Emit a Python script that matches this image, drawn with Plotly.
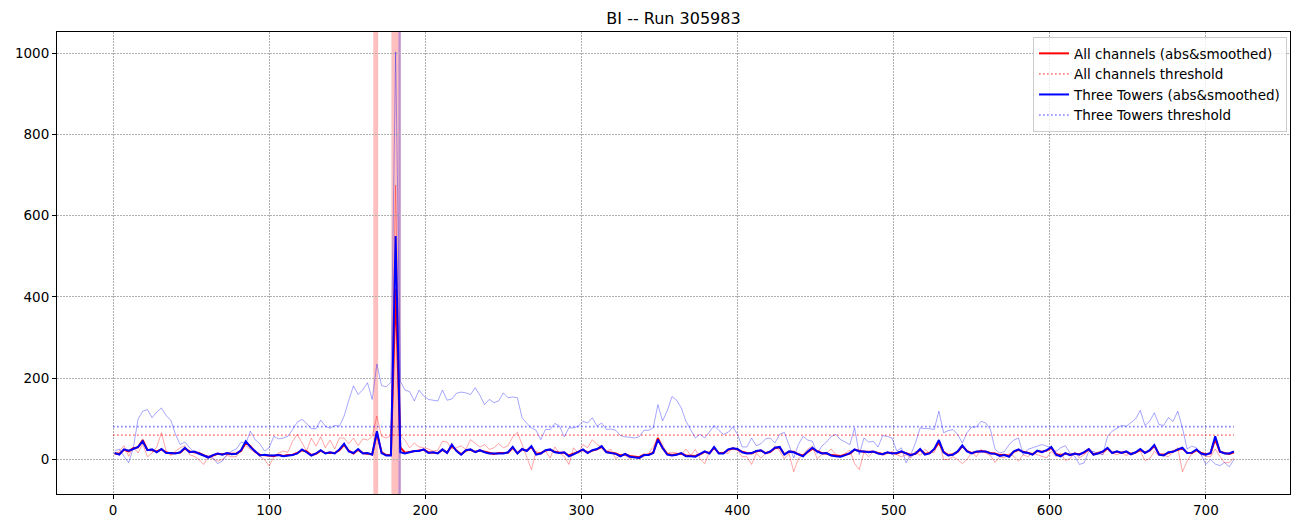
import plotly.graph_objects as go

# ---------------- data ----------------
X = list(range(1, 719, 3))  # sample positions

all_raw_a = [12,21,34,8,31,16,39,7,16,31,
             66,21,10,21,29,34,12,8,0,-12,
             7,2,-4,0,10,7,7,25,34,25,
             18,8,0,-16,7,16,21,18,45,62,
             43,21,53,33,56,29,48,26,53,53,
             39,53,34,51,48,57,107,57,53,59]
all_raw_peak = [675]
all_raw_b = [59,48,29,41,31,29,26,21,23,45,
             43,26,29,34,25,49,41,31,37,25,
             29,39,29,34,56,67,37,4,-25,21,
             12,21,4,31,16,8,-12,29,15,37,
             29,49,37,31,21,25,2,10,10,2,
             7,2,7,15,31,56,34,15,18]
all_raw_c = [16,12,26,10,25,2,-10,18,31,16,
             18,15,31,23,7,7,-12,15,4,15,
             16,34,21,2,15,-30,2,12,26,33,
             2,12,16,26,12,8,16,23,-10,-25,
             18,7,20,16,10,16,20,12,7,12,
             4,20,10,25,16,18,45,0,0,7]
all_raw_d = [0,-10,0,18,7,25,16,10,-7,7,
             4,15,8,-4,12,7,16,12,7,4,
             20,7,16,-2,2,18,4,12,23,10,
             18,12,29,16,12,18,10,16,18,20,
             -2,2,20,10,10,7,18,29,-30,-4,
             15,23,12,8,7,26,8,-8,-7,4]

all_smooth_a = [15,14,24,20,28,30,48,24,23,20,
                25,18,15,16,17,27,20,18,16,11,
                6,10,14,13,15,14,15,21,42,33,
                19,12,11,11,9,12,9,11,12,16,
                23,20,11,14,22,16,17,16,23,36,
                22,15,24,16,15,13,65,18,11,12]
all_smooth_peak = [420]
all_smooth_b = [30,17,19,20,22,24,18,17,16,24,
                17,34,22,13,22,24,19,22,19,16,
                14,16,16,17,29,16,25,22,31,14,
                16,22,24,19,17,17,10,14,19,24,
                17,22,25,31,19,17,15,10,13,9,
                7,6,12,12,17,52,28,14,11]
all_smooth_c = [13,15,10,9,9,13,19,16,29,16,
                16,24,27,25,19,16,15,20,22,16,
                19,28,30,13,19,19,13,10,19,27,
                21,16,15,11,10,9,12,15,24,21,
                19,19,19,16,14,17,16,15,19,15,
                12,14,24,14,16,25,42,19,11,13]
all_smooth_d = [19,33,21,16,19,21,19,16,15,11,
                12,9,19,24,19,17,13,21,19,22,
                29,14,10,15,12,14,13,17,25,13,
                16,19,27,17,19,17,19,14,17,24,
                17,22,34,13,12,17,20,24,27,17,
                16,23,16,13,15,50,19,16,14,18]

tt_raw_a = [21,26,8,-8,29,99,119,123,103,117,
            127,108,97,62,37,43,29,18,12,10,
            10,4,-10,-4,12,21,26,43,39,70,
            49,39,21,29,57,51,53,57,74,92,
            99,89,76,76,97,82,77,84,82,107,
            146,181,160,172,189,148,235,182,179,190]
tt_raw_peak = [1003]
tt_raw_b = [193,171,167,144,171,156,148,146,144,171,
            146,149,163,166,164,160,177,158,135,148,
            140,144,164,152,154,152,103,89,78,72,
            49,74,74,89,82,56,78,78,82,94,
            90,103,82,90,74,75,72,59,56,55,
            53,56,72,72,78,135,95,120,155]
tt_raw_c = [146,127,94,72,53,62,53,68,84,72,
            62,67,80,62,31,31,53,34,39,51,
            53,41,62,67,37,4,37,57,48,45,
            15,33,43,57,62,49,43,37,78,12,
            53,43,45,31,59,57,53,21,29,-8,
            12,41,78,76,76,74,119,66,71,74]
tt_raw_d = [62,41,66,80,80,94,90,74,25,16,
            20,37,48,53,12,25,29,33,37,33,
            29,20,29,34,16,8,-12,-8,20,20,
            15,12,57,70,76,84,82,90,100,121,
            84,94,115,86,84,103,94,119,78,26,
            33,29,12,-12,0,-11,-15,-7,-18,0]

tt_smooth_a = [16,12,25,22,26,31,45,23,25,18,
               26,16,16,15,18,29,18,20,15,10,
               5,11,15,12,16,13,14,23,45,31,
               20,10,12,10,10,11,8,10,11,15,
               25,18,10,15,23,15,18,15,25,39,
               20,16,26,15,16,12,70,16,10,10]
tt_smooth_peak = [550]
tt_smooth_b = [18,15,18,21,21,25,16,18,15,25,
               16,37,21,12,23,25,18,23,18,15,
               15,15,15,18,31,15,26,21,33,12,
               15,23,25,18,16,18,8,13,20,25,
               16,23,26,33,18,16,14,8,14,7,
               5,4,11,11,16,49,29,12,10]
tt_smooth_c = [12,16,8,8,7,14,20,15,31,15,
               15,25,28,26,18,15,16,21,23,15,
               20,29,31,12,20,18,12,8,20,29,
               20,15,16,10,8,7,11,16,25,20,
               20,18,20,15,13,18,15,16,20,14,
               10,15,26,12,15,26,48,18,10,12]
tt_smooth_d = [20,35,20,15,20,20,20,15,14,9,
               11,7,20,25,18,16,12,22,18,23,
               31,12,8,16,11,15,12,18,26,12,
               15,20,29,16,20,16,20,13,18,26,
               16,23,36,12,10,18,19,25,29,16,
               17,25,15,12,16,57,20,15,15,20]

all_threshold = 60
tt_threshold = 81
threshold_x = [0, 718]

all_spans = [(166.7, 169.8), (178.3, 184.3)]
tt_spans = [(182.8, 184.3)]

x_ticks = [0, 100, 200, 300, 400, 500, 600, 700]
y_ticks = [0, 200, 400, 600, 800, 1000]

all_raw = all_raw_a + all_raw_peak + all_raw_b + all_raw_c + all_raw_d
all_smooth = all_smooth_a + all_smooth_peak + all_smooth_b + all_smooth_c + all_smooth_d
tt_raw = tt_raw_a + tt_raw_peak + tt_raw_b + tt_raw_c + tt_raw_d
tt_smooth = tt_smooth_a + tt_smooth_peak + tt_smooth_b + tt_smooth_c + tt_smooth_d
for s in (all_raw, all_smooth, tt_raw, tt_smooth):
    assert len(s) == len(X), len(s)

# ---------------- figure ----------------
FONT = "DejaVu Sans"
fig = go.Figure()

fig.add_trace(go.Scatter(x=X, y=all_raw, mode="lines", showlegend=False,
                         line=dict(color="rgba(255,0,0,0.5)", width=0.7), hoverinfo="skip"))
fig.add_trace(go.Scatter(x=X, y=all_smooth, mode="lines", name="All channels (abs&smoothed)",
                         line=dict(color="#ff0000", width=2)))
fig.add_trace(go.Scatter(x=threshold_x, y=[all_threshold] * 2, mode="lines",
                         name="All channels threshold",
                         line=dict(color="rgba(255,0,0,0.5)", width=1.6, dash="1.6px,2.4px")))
fig.add_trace(go.Scatter(x=X, y=tt_raw, mode="lines", showlegend=False,
                         line=dict(color="rgba(0,0,255,0.5)", width=0.7), hoverinfo="skip"))
fig.add_trace(go.Scatter(x=X, y=tt_smooth, mode="lines", name="Three Towers (abs&smoothed)",
                         line=dict(color="#0000ff", width=2)))
fig.add_trace(go.Scatter(x=threshold_x, y=[tt_threshold] * 2, mode="lines",
                         name="Three Towers threshold",
                         line=dict(color="rgba(0,0,255,0.5)", width=1.6, dash="1.6px,2.4px")))

for x0, x1 in all_spans:
    fig.add_vrect(x0=x0, x1=x1, fillcolor="rgba(255,0,0,0.25)", line_width=0, layer="below")
for x0, x1 in tt_spans:
    fig.add_vrect(x0=x0, x1=x1, fillcolor="rgba(0,0,255,0.25)", line_width=0, layer="below")

axis_common = dict(
    showline=True, linecolor="black", linewidth=1, mirror=True,
    ticks="outside", ticklen=4, tickcolor="black", tickwidth=1,
    showgrid=True, gridcolor="#b0b0b0", gridwidth=0.5, griddash="2px,1px",
    zeroline=False, automargin=False,
    tickfont=dict(family=FONT, size=13.5, color="black"),
)
fig.update_xaxes(range=[-35.9, 753.9], tickvals=x_ticks, **axis_common)
fig.update_yaxes(range=[-84.7, 1051.7], tickvals=y_ticks, **axis_common)

# page body has an 8px margin; figure sized/margined so the plot area lands at
# x 57..1290, y 32..494 of the window
W, H = 1288, 512
fig.update_layout(
    width=W, height=H,
    margin=dict(l=49, r=6, t=24, b=26),
    plot_bgcolor="white", paper_bgcolor="white",
    font=dict(family=FONT, size=13.5, color="black"),
    title=dict(text="BI -- Run 305983", x=0.5, xref="paper", xanchor="center",
               y=1 - 10 / H, yref="container", yanchor="middle",
               font=dict(family=FONT, size=16, color="black")),
    legend=dict(x=0.9976, y=0.989, xanchor="right", yanchor="top",
                bgcolor="rgba(255,255,255,0.8)", bordercolor="#cccccc", borderwidth=1,
                font=dict(family=FONT, size=13.5, color="black"),
                itemwidth=30, tracegroupgap=0),
    showlegend=True,
)

fig.write_html("out.html")
